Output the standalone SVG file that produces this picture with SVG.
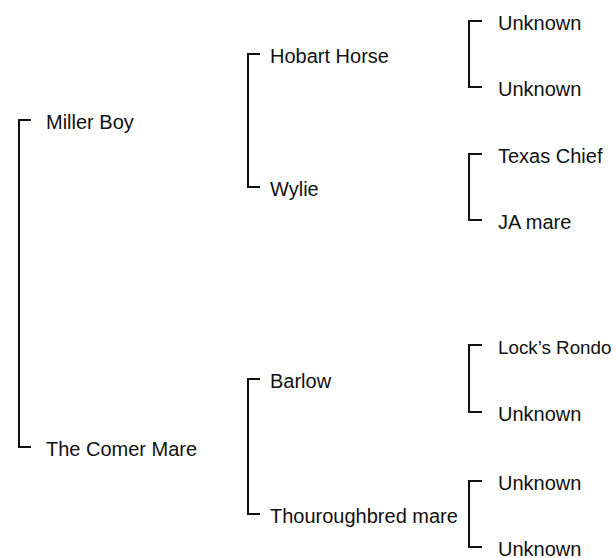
<svg xmlns="http://www.w3.org/2000/svg" width="616" height="558" viewBox="0 0 616 558">
<style>
.b{fill:none;stroke:#111;stroke-width:2;stroke-linejoin:miter;stroke-linecap:butt}
text{font-family:"Liberation Sans",Arial,sans-serif;font-size:20px;fill:#111}
text.s{font-size:18.8px}
</style>
<rect width="616" height="558" fill="#fff"/>
<g id="connectors">
<path class="b" d="M31,120 H19 V447 H31"/>
<path class="b" d="M260,54 H248 V187 H260"/>
<path class="b" d="M260,379 H248 V514 H260"/>
<path class="b" d="M482,21 H469 V87 H482"/>
<path class="b" d="M482,154 H469 V220 H482"/>
<path class="b" d="M482,345 H469 V412 H482"/>
<path class="b" d="M482,481 H469 V547 H482"/>
</g>
<g id="miller-boy"><text x="46" y="128.5">Miller Boy</text></g>
<g id="the-comer-mare"><text x="46" y="455.5">The Comer Mare</text></g>
<g id="hobart-horse"><text x="270" y="62.5">Hobart Horse</text></g>
<g id="wylie"><text x="270" y="195.5">Wylie</text></g>
<g id="barlow"><text x="270" y="387.5">Barlow</text></g>
<g id="thouroughbred-mare"><text x="270" y="522.5">Thouroughbred mare</text></g>
<g id="unknown-1"><text x="498" y="29.5">Unknown</text></g>
<g id="unknown-2"><text x="498" y="95.5">Unknown</text></g>
<g id="texas-chief"><text x="498" y="162.5">Texas Chief</text></g>
<g id="ja-mare"><text x="498" y="228.5">JA mare</text></g>
<g id="locks-rondo"><text class="s" x="498" y="353.5">Lock’s Rondo</text></g>
<g id="unknown-3"><text x="498" y="420.5">Unknown</text></g>
<g id="unknown-4"><text x="498" y="489.5">Unknown</text></g>
<g id="unknown-5"><text x="498" y="555.5">Unknown</text></g>
</svg>
